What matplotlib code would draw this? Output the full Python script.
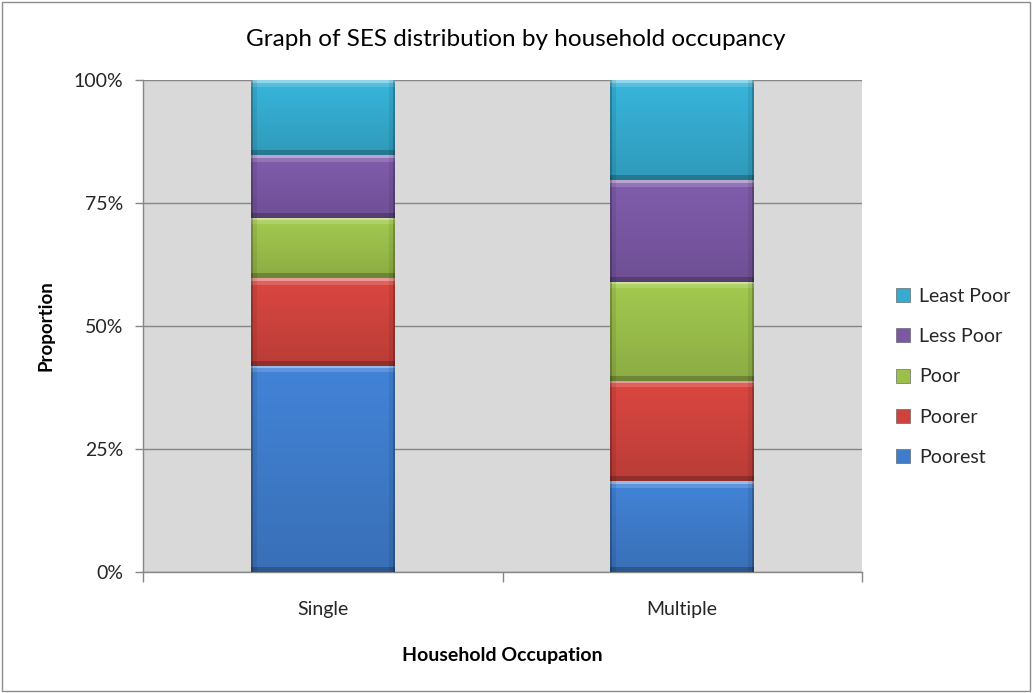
import numpy as np
import matplotlib
matplotlib.use("Agg")
import matplotlib.pyplot as plt
from matplotlib.patches import Rectangle, Patch
from matplotlib.colors import to_rgb
from matplotlib.ticker import FixedLocator, FuncFormatter

# ---- data -------------------------------------------------------------
categories = ["Single", "Multiple"]
series_names = ["Poorest", "Poorer", "Poor", "Less Poor", "Least Poor"]
poorest = [41.9, 18.4]
poorer = [17.8, 20.4]
poor = [12.3, 20.2]
less_poor = [12.8, 20.7]
least_poor = [15.2, 20.3]
series_values = [poorest, poorer, poor, less_poor, least_poor]
y_ticks = [0, 25, 50, 75, 100]
y_tick_labels = ["0%", "25%", "50%", "75%", "100%"]

# ---- style ------------------------------------------------------------
colors = ["#3f7ccb", "#cf433d", "#9bbf4b", "#7a58a4", "#35abcf"]
FONT = "Lato"
plt.rcParams["font.family"] = [FONT, "DejaVu Sans"]

W, H, DPI = 1032, 693, 100
fig = plt.figure(figsize=(W / DPI, H / DPI), dpi=DPI)
fig.patch.set_facecolor("white")

ax_l, ax_r, ax_t, ax_b = 143, 862, 80, 572
ax = fig.add_axes([ax_l / W, 1 - ax_b / H, (ax_r - ax_l) / W, (ax_b - ax_t) / H])
ax.set_facecolor("#d9d9d9")
ax.set_xlim(-0.5, 1.5)
ax.set_ylim(0, 100)

bar_width = 0.40
px_per_unit_y = (ax_b - ax_t) / 100.0


def shaded_image(base, h_px, w_px):
    """Bevelled bar face: light top edge, vertical darkening, dark bottom edge."""
    rgb = np.array(to_rgb(base))
    h = max(int(round(h_px)), 4)
    w = max(int(round(w_px)), 4)
    yy = np.arange(h)[:, None] * np.ones((1, w))
    xx = np.ones((h, 1)) * np.arange(w)[None, :]
    # vertical gradient (top -> bottom)
    f = 1.06 - 0.16 * (yy / max(h - 1, 1))
    img = rgb[None, None, :] * f[..., None]
    # bevel: top highlight
    top = yy < 3
    img[top] = img[top] * 0.55 + 0.45
    top2 = (yy >= 3) & (yy < 7)
    img[top2] = img[top2] * 0.85 + 0.15
    # bevel: bottom darker
    bot = yy >= h - 5
    img[bot] = img[bot] * 0.78
    # side edges
    side = (xx < 2) | (xx >= w - 2)
    img[side] = img[side] * 0.72
    side2 = ((xx >= 2) & (xx < 6)) | ((xx >= w - 6) & (xx < w - 2))
    img[side2] = img[side2] * 0.92
    return np.clip(img, 0, 1)


bar_px_w = bar_width * (ax_r - ax_l) / 2.0
bottoms = np.zeros(len(categories))
for name, vals, col in zip(series_names, series_values, colors):
    bars = ax.bar(range(len(categories)), vals, width=bar_width, bottom=bottoms,
                  color=col, edgecolor="none", zorder=3, label=name)
    for patch, v, b in zip(bars.patches, vals, bottoms):
        x0 = patch.get_x()
        img = shaded_image(col, v * px_per_unit_y, bar_px_w)
        im = ax.imshow(img, extent=(x0, x0 + bar_width, b, b + v),
                       aspect="auto", origin="upper", zorder=4,
                       interpolation="nearest")
        im.set_clip_path(patch)
    bottoms = bottoms + np.array(vals)

# restore limits after imshow
ax.set_xlim(-0.5, 1.5)
ax.set_ylim(0, 100)
ax.set_aspect("auto")

# grid and spines
ax.yaxis.set_major_locator(FixedLocator(y_ticks))
ax.yaxis.set_major_formatter(FuncFormatter(lambda v, p: y_tick_labels[y_ticks.index(int(round(v)))]))
ax.grid(axis="y", color="#868686", linewidth=1.0, zorder=1)
ax.set_axisbelow(True)
for s in ["top", "right"]:
    ax.spines[s].set_visible(False)
for s in ["left", "bottom"]:
    ax.spines[s].set_color("#868686")
    ax.spines[s].set_linewidth(1.0)

ax.set_xticks(range(len(categories)))
ax.set_xticklabels(categories)
ax.set_xticks([-0.5, 0.5, 1.5], minor=True)
ax.tick_params(axis="x", which="major", length=0, pad=21, labelsize=14, labelcolor="#262626")
ax.tick_params(axis="x", which="minor", length=7, color="#868686", width=1)
ax.tick_params(axis="y", length=6, color="#868686", width=1, pad=8,
               labelsize=14, labelcolor="#262626")

ax.set_xlabel("Household Occupation", fontsize=14, fontweight="bold", labelpad=21)
ax.set_ylabel("Proportion", fontsize=13.5, fontweight="bold", labelpad=14)

fig.text(516 / W, 1 - 40 / H, "Graph of SES distribution by household occupancy",
         ha="center", va="center", fontsize=17.5, color="#000000")

# legend (top entry = last series)
handles = [Patch(facecolor=c, edgecolor="#555555", linewidth=0.4) for c in colors][::-1]
labels = series_names[::-1]
leg = fig.legend(handles, labels, loc="upper left",
                 bbox_to_anchor=(888 / W, 1 - 280 / H), frameon=False,
                 fontsize=14, handlelength=0.75, handleheight=0.75,
                 handletextpad=0.45, labelspacing=1.2, borderaxespad=0)
for t in leg.get_texts():
    t.set_color("#262626")

# outer chart border
fig.add_artist(Rectangle((2 / W, 2 / H), 1 - 4 / W, 1 - 4 / H,
                         transform=fig.transFigure, fill=False,
                         edgecolor="#8c8c8c", linewidth=1.0))

fig.savefig("out.png", dpi=DPI)
